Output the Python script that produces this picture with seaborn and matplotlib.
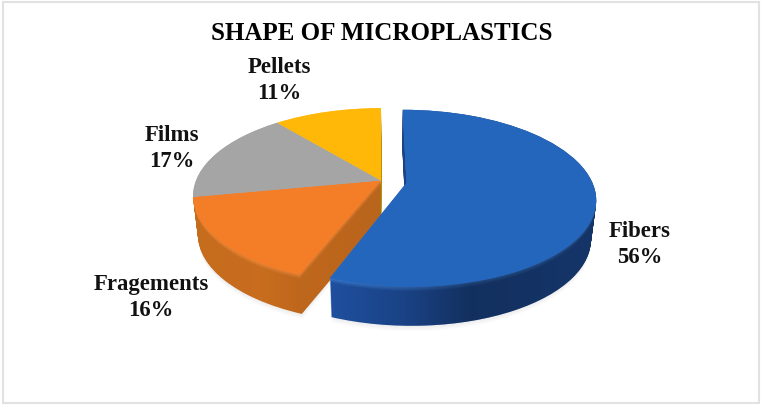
import numpy as np
import matplotlib
matplotlib.use("Agg")
import matplotlib.pyplot as plt
import seaborn as sns
from matplotlib.path import Path
from matplotlib.patches import Rectangle
from matplotlib.transforms import Transform
from matplotlib.colors import to_rgb

# ---- data ----
title = "SHAPE OF MICROPLASTICS"
categories = ["Fibers", "Fragements", "Films", "Pellets"]
values = [56, 16, 17, 11]
explode = [0.14, 0, 0, 0]

# ---- style ----
face_colors = ["#2566BD", "#F47E27", "#A5A5A5", "#FFB808"]
side_colors = ["#1F4F9E", "#CE701F", "#7C7C7C", "#BF8A06"]
rim_colors = ["#3B78CC", "#F08A3C", "#B5B5B5", "#FFC840"]
label_xy = [(640, 244.5), (151, 297.5), (172, 148.5), (279, 80.5)]

sns.set_theme(style="white")
plt.rcParams["font.family"] = ["Liberation Serif", "DejaVu Serif"]
W, H = 762, 406
X0, Y0, RX, RY, K, DEPTH, SHRINK = 381.0, 181.5, 185.0, 85.0, 0.175, 39.0, 0.025


class Tilted(Transform):
    """Perspective view of the unit pie onto figure pixels, at a depth t."""
    input_dims = output_dims = 2
    is_separable = False
    has_inverse = False

    def __init__(self, t=0.0):
        super().__init__()
        self.t = t

    def transform_non_affine(self, values):
        pts = np.asarray(values, dtype=float)
        u, v = pts[:, 0], pts[:, 1]
        w = 1 + K * v
        s = 1 - SHRINK * self.t
        x = X0 + 6 + (RX * u / w - 6) * s
        y = Y0 - RY * v / w + DEPTH * self.t
        return np.column_stack([x, y])


def mix(a, b, f):
    a, b = np.array(to_rgb(a)), np.array(to_rgb(b))
    return tuple(a + (b - a) * f)


fig = plt.figure(figsize=(W / 100, H / 100), dpi=100)
ax = fig.add_axes([0, 0, 1, 1])


def draw_pie(t, colors, **kw):
    wedges, texts = ax.pie(values, startangle=90, counterclock=False, explode=explode,
                           colors=colors, wedgeprops=dict(linewidth=0), **kw)
    for txt in texts:
        txt.remove()
    tr = Tilted(t) + ax.transData
    for wd in wedges:
        wd.set_transform(tr)
    return wedges


def shade(paths, stops, zorder):
    """Dark horizontal overlay on the side wall, clipped to the wall outline."""
    xs = np.arange(W)
    alpha = np.interp(xs, [s[0] for s in stops], [s[1] for s in stops])
    img = np.zeros((1, W, 4))
    img[0, :, 3] = alpha
    im = ax.imshow(img, extent=(0, W, H, 0), aspect="auto", zorder=zorder, interpolation="nearest")
    im.set_clip_path(Path.make_compound_path(*paths), ax.transData)


# soft shadow
for t in np.linspace(1.14, 1.02, 6):
    for wd in draw_pie(t, ["#000000"] * 4):
        wd.set_alpha(0.012)
        wd.set_zorder(0.5)

# side walls, stacked from bottom to top
ts = np.linspace(1, 0, int(DEPTH) + 1)
walls = [[] for _ in values]
for t in ts:
    f = np.clip(t / 0.13, 0, 1)
    cols = [mix(r, s, f) for r, s in zip(rim_colors, side_colors)]
    wedges = draw_pie(t, cols)
    for i, wd in enumerate(wedges):
        wd.set_zorder(4 if i == 0 else 1)
        walls[i].append(Tilted(t).transform_path(wd.get_path()))

shade(walls[0], [(330, 0.0), (400, 0.15), (470, 0.40), (590, 0.34)], 5)
shade(walls[1], [(194, 0.04), (260, 0.03), (300, 0.08), (385, 0.10)], 2)

# top faces
for i, wd in enumerate(draw_pie(0, face_colors)):
    wd.set_zorder(6 if i == 0 else 3)

ax.set_aspect("auto")
ax.set_xlim(0, W)
ax.set_ylim(H, 0)
ax.set_frame_on(False)
ax.set_xticks([])
ax.set_yticks([])

# frame
ax.add_patch(Rectangle((3, 3), W - 6, H - 5, fill=False, ec="#E2E2E2", lw=1.5, zorder=0.2))

# texts
ax.text(382, 34, title, ha="center", va="center", fontsize=18, fontweight="bold", color="black", zorder=10)
for name, val, (lx, ly) in zip(categories, values, label_xy):
    ax.text(lx, ly, f"{name}\n{val}%", ha="center", va="center", fontsize=16.4, fontweight="bold",
            color="#111111", linespacing=1.27, zorder=10)

fig.savefig("out.png", dpi=100)
